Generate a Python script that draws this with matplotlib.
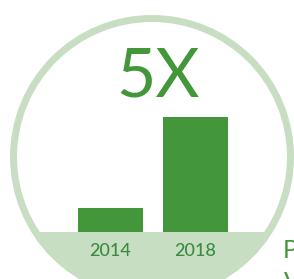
import matplotlib
matplotlib.use("Agg")
import matplotlib.pyplot as plt
from matplotlib.patches import Circle, Rectangle

years = ["2014", "2018"]
values = [1.0, 4.8]
headline = "5X"

BAR = "#43963A"
LIGHT = "#C8DEC3"
LABEL = "#3A8B40"

W, H = 294, 279
fig = plt.figure(figsize=(W / 100, H / 100), dpi=100)
fig.patch.set_facecolor("white")

# background decoration axes in pixel coordinates
bg = fig.add_axes([0, 0, 1, 1], zorder=0)
bg.set_xlim(0, W)
bg.set_ylim(H, 0)
bg.axis("off")
cx, cy, r_out, ring = 152, 157, 142, 7
ring_circle = Circle((cx, cy), r_out - ring / 2, facecolor="white",
                     edgecolor=LIGHT, linewidth=ring * 72 / 100)
bg.add_patch(ring_circle)
clip = Circle((cx, cy), r_out, transform=bg.transData)
floor = Rectangle((0, 232), W, H - 232, facecolor=LIGHT, edgecolor="none")
bg.add_patch(floor)
floor.set_clip_path(clip)

# bar axes
ax = fig.add_axes([68 / W, (H - 232) / H, 170 / W, 120 / H], zorder=2)
ax.patch.set_alpha(0)
ax.bar(range(len(years)), values, width=65 / 85, color=BAR)
ax.set_xlim(-0.5, 1.5)
ax.set_ylim(0, 5)
ax.set_xticks(range(len(years)))
ax.set_xticklabels(years, family="Lato", fontsize=13, fontweight="medium",
                   color=LABEL)
ax.tick_params(axis="x", length=0, pad=8)
ax.set_yticks([])
for s in ax.spines.values():
    s.set_visible(False)

fig.text(158 / W, 1 - 77.5 / H, headline, family="Lato", fontweight="normal",
         fontsize=49, color=BAR, ha="center", va="center")
fig.text(283 / W, 1 - 250 / H, "P", family="Lato", fontsize=18, color=BAR,
         ha="left", va="center")
fig.text(284 / W, 1 - 271 / H, "V", family="Lato", fontsize=18, color=BAR,
         ha="left", va="top")

fig.savefig("out.png", dpi=100, facecolor="white")
